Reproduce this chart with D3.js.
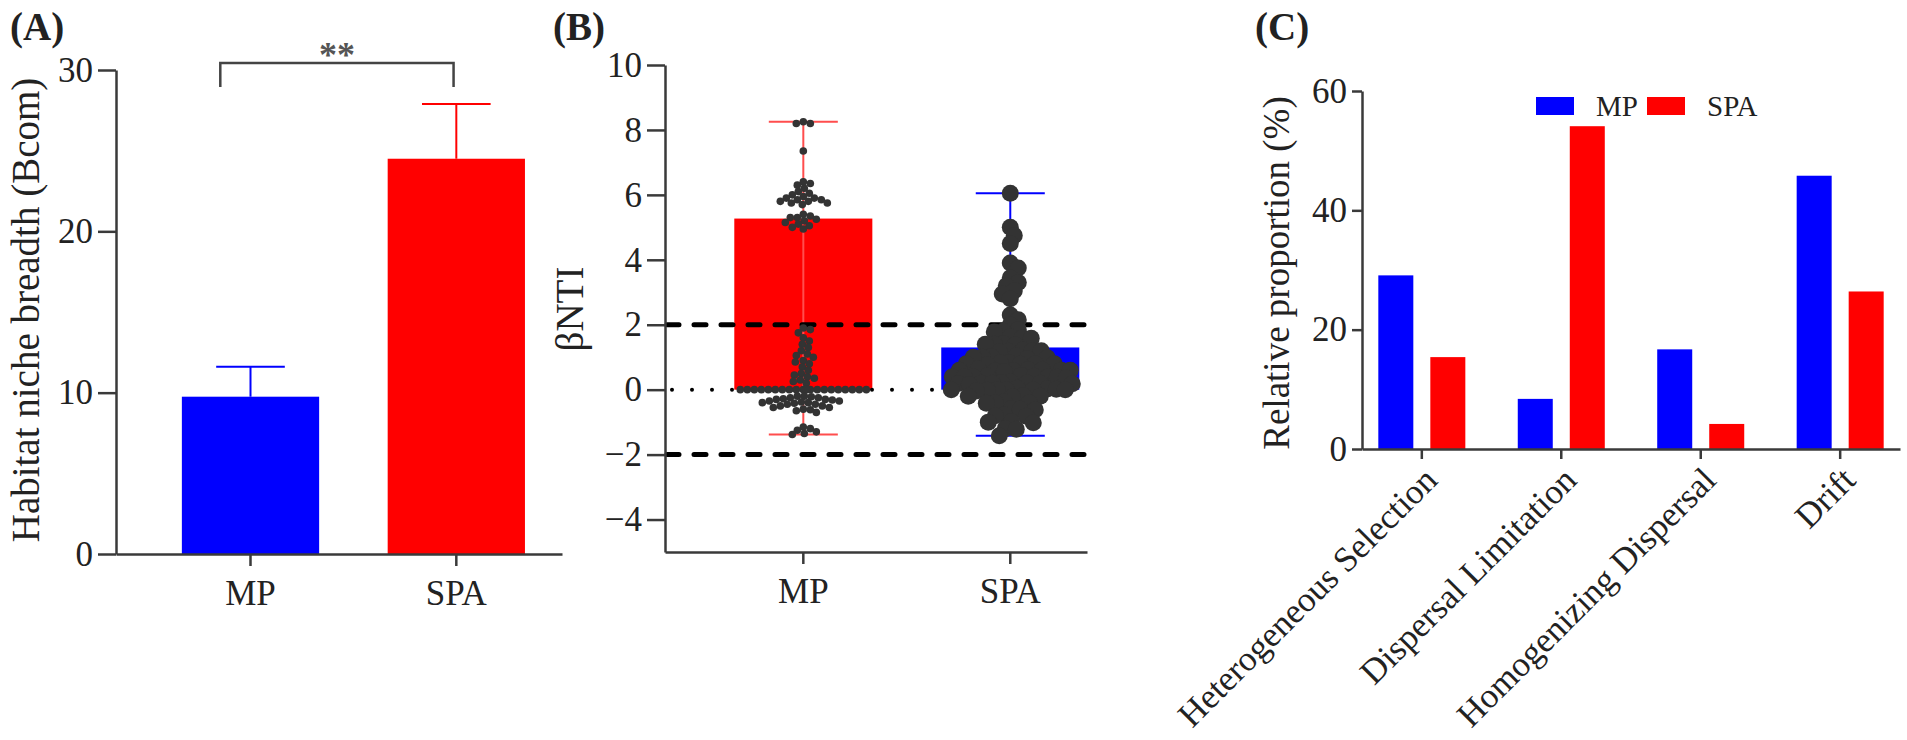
<!DOCTYPE html>
<html>
<head>
<meta charset="utf-8">
<script src="https://cdn.jsdelivr.net/npm/d3@7"></script>
<style>
  body { margin: 0; background: #fff; }
  text { font-family: 'Liberation Serif', 'DejaVu Serif', serif; }
</style>
</head>
<body>
<svg id="chart"></svg>
<script>
// data
const groups = ['MP', 'SPA'];
const nicheMean = [9.75, 24.5];
const nicheErr = [1.85, 3.4];
const nicheTicks = [0, 10, 20, 30];

const betaBar = [5.27, 1.3];
const betaTicks = [-4, -2, 0, 2, 4, 6, 8, 10];
const mpBeta = [
  8.25, 8.2, 8.2, 7.35,
  6.4, 6.35, 6.3, 6.2, 6.1, 6.05, 6.0, 5.95, 5.9, 5.9, 5.85, 5.85, 5.8, 5.8, 5.75, 5.75, 5.7,
  5.4, 5.35, 5.3, 5.3, 5.25, 5.2, 5.15, 5.1, 5.05, 5.0, 4.95,
  1.9, 1.85, 1.75, 1.6, 1.5, 1.4, 1.3, 1.2, 1.1, 1.05, 1.0, 0.9, 0.85, 0.8, 0.7, 0.6,
  0.5, 0.45, 0.4, 0.35, 0.3, 0.25, 0.2,
  0, 0, 0, 0, 0, 0, 0, 0, 0, 0, 0, 0, 0, 0, 0, 0, 0, 0, 0, 0,
  -0.2, -0.2, -0.22, -0.25, -0.25, -0.28, -0.3, -0.3, -0.32, -0.35, -0.35, -0.38, -0.4,
  -0.4, -0.42, -0.45, -0.45, -0.5, -0.5, -0.55, -0.55, -0.6, -0.62, -0.65, -0.7,
  -1.15, -1.2, -1.25, -1.3, -1.35, -1.38
];
const spaBeta = [
  6.05, 5.0, 4.75, 4.5, 3.9, 3.75, 3.45, 3.3, 3.2, 3.05, 2.95, 2.8, 2.3, 2.15, 2.0,
  1.85, 1.8, 1.78,
  1.62, 1.6, 1.58,
  1.42, 1.4, 1.38, 1.4,
  1.22, 1.2, 1.18, 1.2, 1.16,
  1.02, 1.0, 0.98, 1.0, 0.96, 1.04,
  0.82, 0.8, 0.78, 0.8, 0.76, 0.84, 0.8,
  0.62, 0.6, 0.58, 0.6, 0.56, 0.64, 0.6, 0.61, 0.59,
  0.42, 0.4, 0.38, 0.4, 0.36, 0.44, 0.4, 0.41, 0.39,
  0.22, 0.2, 0.18, 0.2, 0.16, 0.24, 0.2, 0.21, 0.19,
  0.02, 0.0, -0.02, 0.0, -0.04, 0.04, 0.0, 0.01, -0.01, 0.0,
  -0.2, -0.22, -0.18, -0.2,
  -0.4, -0.42, -0.38, -0.4,
  -0.6, -0.62, -0.58,
  -0.8, -0.82, -0.78,
  -1.0, -1.02, -0.98,
  -1.2, -1.22,
  -1.42
];

const processes = ['Heterogeneous Selection', 'Dispersal Limitation', 'Homogenizing Dispersal', 'Drift'];
const mpShare = [29.1, 8.4, 16.7, 45.8];
const spaShare = [15.4, 54.1, 4.2, 26.4];
const shareTicks = [0, 20, 40, 60];

const WIDTH = 1907, HEIGHT = 740;
const FONT = "'Liberation Serif', 'DejaVu Serif', serif";
const BLUE = '#0000ff', RED = '#ff0000', INK = '#222', AXIS = '#3a3a3a';

const svg = d3.select('#chart')
  .attr('width', WIDTH)
  .attr('height', HEIGHT);

// common axis styling
const styleAxis = (g, size) => {
  g.attr('font-family', FONT);
  g.select('.domain').attr('stroke', AXIS).attr('stroke-width', 2.5);
  g.selectAll('.tick line').attr('stroke', AXIS).attr('stroke-width', 2.5);
  g.selectAll('.tick text')
    .attr('font-family', FONT)
    .attr('font-size', size)
    .attr('fill', INK);
};

const panelLabel = (x, txt) => svg.append('text')
  .attr('x', x).attr('y', 40)
  .attr('font-family', FONT)
  .attr('font-size', 39).attr('font-weight', 'bold').attr('fill', INK)
  .text(txt);

const yTitle = (x, y, txt, size) => svg.append('text')
  .attr('transform', `translate(${x},${y}) rotate(-90)`)
  .attr('text-anchor', 'middle').attr('dominant-baseline', 'central')
  .attr('font-family', FONT)
  .attr('font-size', size).attr('fill', INK)
  .text(txt);

// ---------- (A) niche breadth ----------
const xA = d3.scaleBand().domain(groups).range([116, 562])
  .paddingInner(0.333).paddingOuter(0.25).align(0.64);
const yA = d3.scaleLinear().domain([0, 30]).range([554, 70]);

svg.append('g').selectAll('rect').data(groups).enter().append('rect')
  .attr('x', d => xA(d))
  .attr('y', (d, i) => yA(nicheMean[i]))
  .attr('width', xA.bandwidth())
  .attr('height', (d, i) => yA(0) - yA(nicheMean[i]))
  .attr('fill', (d, i) => i ? RED : BLUE);

const errA = svg.append('g');
groups.forEach((g, i) => {
  const cx = xA(g) + xA.bandwidth() / 2;
  const top = yA(nicheMean[i] + nicheErr[i]);
  const col = i ? RED : BLUE;
  errA.append('line').attr('x1', cx).attr('x2', cx)
    .attr('y1', yA(nicheMean[i])).attr('y2', top)
    .attr('stroke', col).attr('stroke-width', 2);
  errA.append('line').attr('x1', cx - xA.bandwidth() / 4).attr('x2', cx + xA.bandwidth() / 4)
    .attr('y1', top).attr('y2', top)
    .attr('stroke', col).attr('stroke-width', 2);
});

svg.append('g').attr('transform', 'translate(116,0)')
  .call(d3.axisLeft(yA).tickValues(nicheTicks).tickSize(18).tickSizeOuter(0).tickPadding(5))
  .call(g => styleAxis(g, 35));
svg.append('g').attr('transform', `translate(0,${yA(0)})`)
  .call(d3.axisBottom(xA).tickSize(12).tickSizeOuter(0).tickPadding(14))
  .call(g => styleAxis(g, 35));

// significance bracket
const bx1 = xA('MP') + xA.bandwidth() * 0.28, bx2 = xA('SPA') + xA.bandwidth() * 0.48;
svg.append('path')
  .attr('d', `M${bx1},87 V63 H${bx2} V87`)
  .attr('fill', 'none').attr('stroke', '#444').attr('stroke-width', 2.5);
svg.append('text').attr('x', (bx1 + bx2) / 2).attr('y', 67)
  .attr('text-anchor', 'middle').attr('font-family', FONT)
  .attr('font-size', 36).attr('font-weight', 'bold').attr('fill', '#555')
  .text('**');

yTitle(25, 310, 'Habitat niche breadth (Bcom)', 39);
panelLabel(10, '(A)');

// ---------- (B) betaNTI ----------
const xB = d3.scaleBand().domain(groups).range([665, 1087])
  .paddingInner(0.333).paddingOuter(0.186).align(0.9);
const yB = d3.scaleLinear().domain([-5, 10]).range([552, 65]);
const bColor = [RED, BLUE];
const wColor = ['#ff4d4d', BLUE];

svg.append('g').selectAll('rect').data(groups).enter().append('rect')
  .attr('x', d => xB(d))
  .attr('y', (d, i) => yB(betaBar[i]))
  .attr('width', xB.bandwidth())
  .attr('height', (d, i) => yB(0) - yB(betaBar[i]))
  .attr('fill', (d, i) => bColor[i]);

const whisk = svg.append('g');
[mpBeta, spaBeta].forEach((vals, i) => {
  const cx = xB(groups[i]) + xB.bandwidth() / 2;
  const [lo, hi] = d3.extent(vals);
  const hw = xB.bandwidth() / 4;
  whisk.append('line').attr('x1', cx).attr('x2', cx)
    .attr('y1', yB(lo)).attr('y2', yB(hi))
    .attr('stroke', wColor[i]).attr('stroke-width', 2);
  [lo, hi].forEach(v => whisk.append('line')
    .attr('x1', cx - hw).attr('x2', cx + hw)
    .attr('y1', yB(v)).attr('y2', yB(v))
    .attr('stroke', wColor[i]).attr('stroke-width', 2));
});

// reference lines
[2, -2].forEach(v => svg.append('line')
  .attr('x1', 667).attr('x2', 1087).attr('y1', yB(v)).attr('y2', yB(v))
  .attr('stroke', '#000').attr('stroke-width', 5)
  .attr('stroke-dasharray', '12,15').attr('stroke-linecap', 'round'));
svg.append('line')
  .attr('x1', 672).attr('x2', 1087).attr('y1', yB(0)).attr('y2', yB(0))
  .attr('stroke', '#000').attr('stroke-width', 4)
  .attr('stroke-dasharray', '0,20').attr('stroke-linecap', 'round');

// beeswarm offsets, kept inside +-maxHalf (points overlap once it is full)
const swarm = (vals, minDist, maxHalf) => {
  const placed = [];
  vals.map(v => ({ v, y: yB(v) }))
    .sort((a, b) => b.v - a.v)
    .forEach(p => {
      let best = 0, bestGap = -1;
      for (let k = 0; k <= 2 * maxHalf; k++) {
        const off = (k % 2 ? 1 : -1) * Math.ceil(k / 2);
        let gap = Infinity;
        placed.forEach(q => {
          const d2 = (q.dx - off) ** 2 + (q.y - p.y) ** 2;
          if (d2 < gap) gap = d2;
        });
        if (gap >= minDist * minDist) { best = off; bestGap = gap; break; }
        if (gap > bestGap) { best = off; bestGap = gap; }
      }
      p.dx = best;
      placed.push(p);
    });
  return placed;
};

const mpPts = swarm(mpBeta, 6.5, 66);
const spaPts = swarm(spaBeta, 9, 62);
const mpCx = xB('MP') + xB.bandwidth() / 2;
const spaCx = xB('SPA') + xB.bandwidth() / 2;

svg.append('g').selectAll('circle').data(mpPts).enter().append('circle')
  .attr('cx', d => mpCx + d.dx).attr('cy', d => d.y).attr('r', 3.8)
  .attr('fill', '#333');
svg.append('g').selectAll('circle').data(spaPts).enter().append('circle')
  .attr('cx', d => spaCx + d.dx).attr('cy', d => d.y).attr('r', 8.5)
  .attr('fill', '#333');

svg.append('g').attr('transform', 'translate(665,0)')
  .call(d3.axisLeft(yB).tickValues(betaTicks).tickSize(18).tickSizeOuter(0).tickPadding(5))
  .call(g => styleAxis(g, 35));
svg.append('g').attr('transform', `translate(0,${yB(-5)})`)
  .call(d3.axisBottom(xB).tickSize(12).tickSizeOuter(0).tickPadding(14))
  .call(g => styleAxis(g, 35));

yTitle(569, 309, 'βNTI', 39);
panelLabel(553, '(B)');

// ---------- (C) process shares ----------
const xC = d3.scaleBand().domain(processes).range([1362, 1900])
  .paddingInner(0.376).paddingOuter(0.117);
const xSub = d3.scaleBand().domain(groups).range([0, xC.bandwidth()]).paddingInner(0.327);
const yC = d3.scaleLinear().domain([0, 60]).range([449, 91]);
const shares = [mpShare, spaShare];

svg.append('g').selectAll('g').data(processes).enter().append('g')
  .attr('transform', d => `translate(${xC(d)},0)`)
  .selectAll('rect')
  .data((d, j) => groups.map((g, i) => ({ g, v: shares[i][j], i })))
  .enter().append('rect')
  .attr('x', d => xSub(d.g))
  .attr('y', d => yC(d.v))
  .attr('width', xSub.bandwidth())
  .attr('height', d => yC(0) - yC(d.v))
  .attr('fill', d => d.i ? RED : BLUE);

svg.append('g').attr('transform', 'translate(1362,0)')
  .call(d3.axisLeft(yC).tickValues(shareTicks).tickSize(10).tickSizeOuter(0).tickPadding(5))
  .call(g => styleAxis(g, 35));
const axC = svg.append('g').attr('transform', `translate(0,${yC(0)})`)
  .call(d3.axisBottom(xC).tickSize(10).tickSizeOuter(0))
  .call(g => styleAxis(g, 35));
axC.selectAll('.tick text')
  .attr('text-anchor', 'end')
  .attr('dy', 0)
  .attr('transform', 'translate(8,24) rotate(-45)');

yTitle(1276, 273, 'Relative proportion (%)', 37);
panelLabel(1255, '(C)');

// legend
const leg = svg.append('g').attr('transform', 'translate(1536,97)');
groups.forEach((g, i) => {
  const gx = i * 111;
  leg.append('rect').attr('x', gx).attr('y', 0).attr('width', 38).attr('height', 18)
    .attr('fill', i ? RED : BLUE);
  leg.append('text').attr('x', gx + 60).attr('y', 9)
    .attr('dominant-baseline', 'central')
    .attr('font-family', FONT)
    .attr('font-size', 29).attr('fill', INK)
    .text(g);
});
</script>
</body>
</html>
